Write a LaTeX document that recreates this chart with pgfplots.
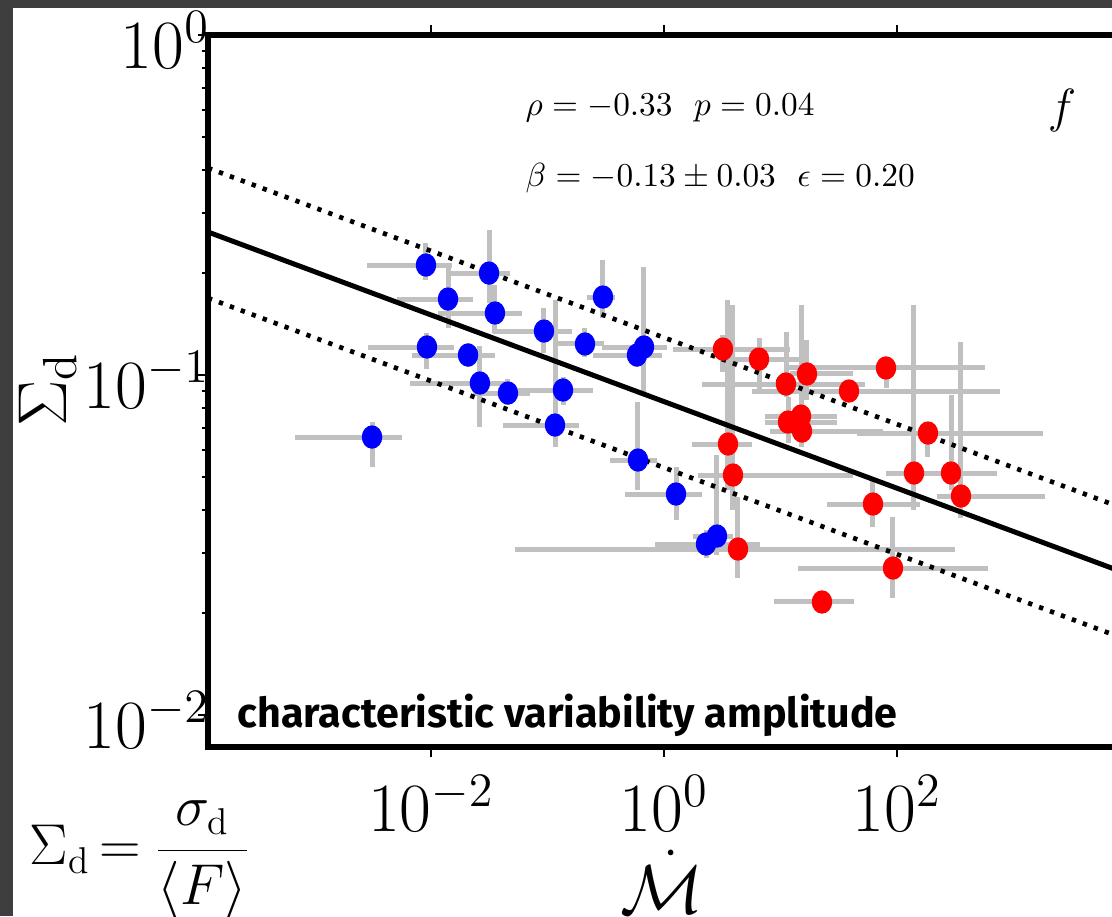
\documentclass[border=0pt]{standalone}
\usepackage{pgfplots}
\pgfplotsset{compat=1.18}
\usepackage{pgfplotstable}
\usepackage{fontspec}
\newfontfamily\labelfont{Fira Sans}

\definecolor{barcol}{RGB}{192,192,192}
\definecolor{framecol}{RGB}{62,62,62}

% x, y, error bar ends (xlo, xhi, ylo, yhi)
\pgfplotstableread{
x y xlo xhi ylo yhi
0.00906 0.2106 0.00282 0.0151 0.1903 0.2445
0.0315 0.1995 0.0140 0.0477 0.1628 0.2670
0.0140 0.1673 0.00511 0.0229 0.1375 0.2078
0.0354 0.1522 0.01148 0.0604 0.1329 0.1839
0.0933 0.1347 0.0341 0.1623 0.1161 0.1574
0.2995 0.1696 0.2183 0.3797 0.1472 0.2179
0.00924 0.1209 0.00288 0.0158 0.1042 0.1329
0.0208 0.1145 0.00687 0.0354 0.1056 0.1242
0.0263 0.09473 0.00660 0.0458 0.07031 0.1217
0.0458 0.08852 0.0229 0.0708 0.08162 0.09733
0.1359 0.09035 0.0558 0.2458 0.08162 0.09865
0.2098 0.1234 0.1206 0.3055 0.1130 0.1375
0.6735 0.1209 0.2937 1.061 0.08852 0.2078
0.5864 0.1145 0.2458 0.9612 0.1056 0.1209
0.1160 0.07127 0.0415 0.1864 0.06141 0.1662
0.00312 0.06571 0.00068 0.00564 0.05363 0.07273
0.5981 0.05623 0.3439 0.8708 0.04589 0.08329
1.268 0.04467 0.4626 2.119 0.03746 0.05363
2.850 0.03361 1.774 3.911 0.02955 0.05817
2.294 0.03184 0.8370 6.668 0.02896 0.03500
}\bluedata

\pgfplotstableread{
x y xlo xhi ylo yhi
3.209 0.1192 1.195 12.06 0.1021 0.1311
6.539 0.1114 3.685 17.22 0.09035 0.1285
16.88 0.1007 12.06 41.91 0.08442 0.1268
11.15 0.09409 2.119 53.12 0.08615 0.1338
38.73 0.08974 5.693 766.0 0.08615 0.09345
80.47 0.1049 11.37 569.3 0.09157 0.1092
11.60 0.07273 7.362 30.55 0.06310 0.08615
15.00 0.07574 7.362 30.55 0.06984 0.08162
15.29 0.06843 8.126 75.83 0.06141 0.1607
3.543 0.06267 1.739 5.693 0.04589 0.1662
3.911 0.05080 1.958 41.91 0.04008 0.1607
184.5 0.06751 45.37 1791 0.05738 0.07127
139.9 0.05149 80.47 258.2 0.04008 0.1607
290.8 0.05149 142.7 721.7 0.04589 0.08733
354.3 0.04407 220.4 1864 0.03797 0.1251
62.23 0.04174 25.07 157.6 0.03572 0.04911
4.317 0.03078 0.0526 314.8 0.02528 0.04377
92.4 0.02706 14.13 604.0 0.02209 0.03823
22.71 0.02150 8.795 42.75 0.02050 0.02254
}\reddata

\pgfplotsset{
  errbars/.style={draw=none, mark=none, forget plot,
    error bars/.cd, x dir=both, y dir=both, x explicit, y explicit,
    error mark=none, error bar style={draw=barcol, line width=1.5pt, solid}},
  dots/.style={only marks, mark=*, mark size=3.3pt, mark options={xscale=0.87}},
}

\begin{document}
\begin{tikzpicture}[x=0.3pt,y=0.3pt]
\path[use as bounding box] (0,0) rectangle (1112,916);
\fill[white] (0,0) rectangle (1112,916);
\begin{scope}
\clip (0,0) rectangle (1112,916);
\begin{axis}[
    at={(62.4pt,50.7pt)}, anchor=south west,
    scale only axis, width=274.86pt, height=213.6pt,
    xmode=log, ymode=log,
    xmin=1.2188e-4, xmax=8913, ymin=0.008052, ymax=1,
    axis line style={line width=1.8pt},
    tick align=outside,
    major tick length=3pt, minor tick length=1.8pt,
    tick style={line width=0.6pt, black},
    xtick={1e-2,1,1e2}, xminorticks=false,
    ytick={1e-2,1e-1,1},
    tick label style={font=\fontsize{20.5}{22}\selectfont},
    xticklabel style={yshift=-2pt},
    yticklabel style={xshift=7pt, yshift=-1.5pt},
]
\addplot[errbars] table[x=x, y=y,
    x error plus expr=\thisrow{xhi}-\thisrow{x}, x error minus expr=\thisrow{x}-\thisrow{xlo},
    y error plus expr=\thisrow{yhi}-\thisrow{y}, y error minus expr=\thisrow{y}-\thisrow{ylo}] {\bluedata};
\addplot[errbars] table[x=x, y=y,
    x error plus expr=\thisrow{xhi}-\thisrow{x}, x error minus expr=\thisrow{x}-\thisrow{xlo},
    y error plus expr=\thisrow{yhi}-\thisrow{y}, y error minus expr=\thisrow{y}-\thisrow{ylo}] {\reddata};

% fit and scatter band
\addplot[black, line width=1.5pt] coordinates {(1.2188e-4,0.2634) (8913,0.02622)};
\addplot[black, line width=1.4pt, dash pattern=on 1.3pt off 2.2pt] coordinates {(1.2188e-4,0.4063) (8913,0.04045)};
\addplot[black, line width=1.4pt, dash pattern=on 1.3pt off 2.2pt] coordinates {(1.2188e-4,0.1684) (8913,0.01677)};

\addplot[dots, blue] table[x=x, y=y] {\bluedata};
\addplot[dots, red] table[x=x, y=y] {\reddata};
\end{axis}
\end{scope}
% dark screen border on top and left
\fill[framecol] (0,908) rectangle (1112,916);
\fill[framecol] (0,0) rectangle (13,916);

\node[anchor=west, inner sep=0pt, font=\fontsize{9.7}{12}\selectfont] at (525,808) {$\rho=-0.33\ \ p=0.04$};
\node[anchor=west, inner sep=0pt, font=\fontsize{9.7}{12}\selectfont] at (525,738) {$\beta=-0.13\pm0.03\ \ \epsilon=0.20$};
\node[font=\fontsize{14}{16}\selectfont] at (1062,806) {$f$};
\node[anchor=base west, inner sep=0pt] at (237,189) {\resizebox{198pt}{!}{\labelfont\bfseries characteristic variability amplitude}};
\node[rotate=90, font=\fontsize{20.5}{22}\selectfont] at (48,526) {$\Sigma_{\mathrm{d}}$};
\node[font=\fontsize{22}{24}\selectfont] at (662,34) {$\dot{\mathcal{M}}$};
\node[anchor=west, inner sep=0pt, font=\fontsize{16}{18}\selectfont] at (29,56) {$\displaystyle\Sigma_{\mathrm{d}}\mskip3mu{=}\mskip4mu\frac{\sigma_{\mathrm{d}}}{\langle F\rangle}$};
\end{tikzpicture}
\end{document}
